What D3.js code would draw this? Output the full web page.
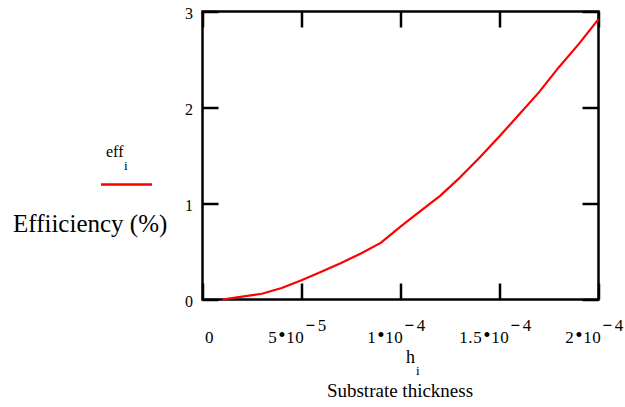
<!DOCTYPE html>
<html>
<head>
<meta charset="utf-8">
<script src="https://cdn.jsdelivr.net/npm/d3@7"></script>
<style>
  body { margin: 0; background: #fff; }
  svg { display: block; }
  text { font-family: "Liberation Serif", "Times New Roman", serif; fill: #000; }
</style>
</head>
<body>
<svg id="chart" width="625" height="407"></svg>
<script>
// Substrate thickness h_i (m) and efficiency eff_i (%)
const thickness = [1e-5, 2e-5, 3e-5, 4e-5, 5e-5, 6e-5, 7e-5, 8e-5, 9e-5, 1e-4,
                   1.1e-4, 1.2e-4, 1.3e-4, 1.4e-4, 1.5e-4, 1.6e-4, 1.7e-4, 1.8e-4, 1.9e-4, 2e-4];
const efficiency = [0.00, 0.03, 0.06, 0.12, 0.20, 0.29, 0.38, 0.48, 0.59, 0.76,
                    0.92, 1.08, 1.27, 1.48, 1.70, 1.93, 2.16, 2.42, 2.66, 2.92];

const xTickValues = [0, 5e-5, 1e-4, 1.5e-4, 2e-4];
const xTickMantissas = ["0", "5", "1", "1.5", "2"];
const xTickExponents = ["", "5", "4", "4", "4"];
const yTickValues = [0, 1, 2, 3];

const xVarName = "h", xVarIndex = "i";
const xAxisTitle = "Substrate thickness";
const seriesName = "eff", seriesIndex = "i";
const yAxisTitle = "Effiiciency (%)";

const svg = d3.select("#chart");

const x = d3.scaleLinear().domain([0, 2e-4]).range([202.5, 598.5]);
const y = d3.scaleLinear().domain([0, 3]).range([299.5, 11.5]);

const frameW = 2.5;

// Inward ticks on all four sides
function styleAxis(g) {
  g.select(".domain").remove();
  g.selectAll(".tick line").attr("stroke", "#000").attr("stroke-width", frameW);
  g.selectAll(".tick text").remove();
}
svg.append("g").attr("transform", `translate(0,${y(0)})`)
  .call(d3.axisBottom(x).tickValues(xTickValues).tickSize(-16).tickFormat(""))
  .call(styleAxis);
svg.append("g").attr("transform", `translate(0,${y(3)})`)
  .call(d3.axisTop(x).tickValues(xTickValues).tickSize(-16).tickFormat(""))
  .call(styleAxis);
svg.append("g").attr("transform", `translate(${x(0)},0)`)
  .call(d3.axisLeft(y).tickValues(yTickValues).tickSize(-16).tickFormat(""))
  .call(styleAxis);
svg.append("g").attr("transform", `translate(${x(2e-4)},0)`)
  .call(d3.axisRight(y).tickValues(yTickValues).tickSize(-16).tickFormat(""))
  .call(styleAxis);

// Plot frame
svg.append("rect")
  .attr("x", x(0)).attr("y", y(3))
  .attr("width", x(2e-4) - x(0)).attr("height", y(0) - y(3))
  .attr("fill", "none").attr("stroke", "#000").attr("stroke-width", frameW);

// Efficiency curve
const line = d3.line().x((d, i) => x(thickness[i])).y(d => y(d));
svg.append("path")
  .datum(efficiency)
  .attr("d", line)
  .attr("fill", "none")
  .attr("stroke", "#ff0000")
  .attr("stroke-width", 2.2)
  .attr("stroke-linejoin", "round");

// Y tick labels
svg.append("g").selectAll("text")
  .data(yTickValues)
  .join("text")
  .attr("x", 193)
  .attr("y", d => y(d) + 2)
  .attr("dy", "0.35em")
  .attr("text-anchor", "end")
  .attr("font-size", 16)
  .text(d => d);

// X tick labels in m•10^-e form
const xl = svg.append("g");
xTickValues.forEach((v, i) => {
  const t = xl.append("text")
    .attr("x", x(v) + (v === 0 ? 7 : -4))
    .attr("y", 343)
    .attr("text-anchor", "middle")
    .attr("font-size", 17)
    .attr("letter-spacing", 0.6);
  t.append("tspan").text(xTickMantissas[i]);
  if (xTickExponents[i]) {
    t.append("tspan").attr("font-size", 21).attr("dy", -1).attr("dx", 1).text("\u2022");
    t.append("tspan").attr("dy", 1).text("10");
    t.append("tspan").attr("dy", -12).attr("dx", 1).attr("font-weight", "bold").text("\u2212");
    t.append("tspan").attr("dx", 2).text(xTickExponents[i]);
  }
});

// X variable and title
svg.append("text").attr("x", 406).attr("y", 363).attr("font-size", 18).text(xVarName);
svg.append("text").attr("x", 416).attr("y", 375).attr("font-size", 13).text(xVarIndex);
svg.append("text").attr("x", 400).attr("y", 397).attr("text-anchor", "middle")
  .attr("font-size", 19).text(xAxisTitle);

// Series legend and y title
svg.append("text").attr("x", 106).attr("y", 157).attr("font-size", 16).text(seriesName);
svg.append("text").attr("x", 124).attr("y", 170).attr("font-size", 13).text(seriesIndex);
svg.append("line")
  .attr("x1", 101).attr("x2", 152).attr("y1", 184.5).attr("y2", 184.5)
  .attr("stroke", "#ff0000").attr("stroke-width", 2.5);
svg.append("text").attr("x", 13).attr("y", 232).attr("font-size", 25).text(yAxisTitle);
</script>
</body>
</html>
